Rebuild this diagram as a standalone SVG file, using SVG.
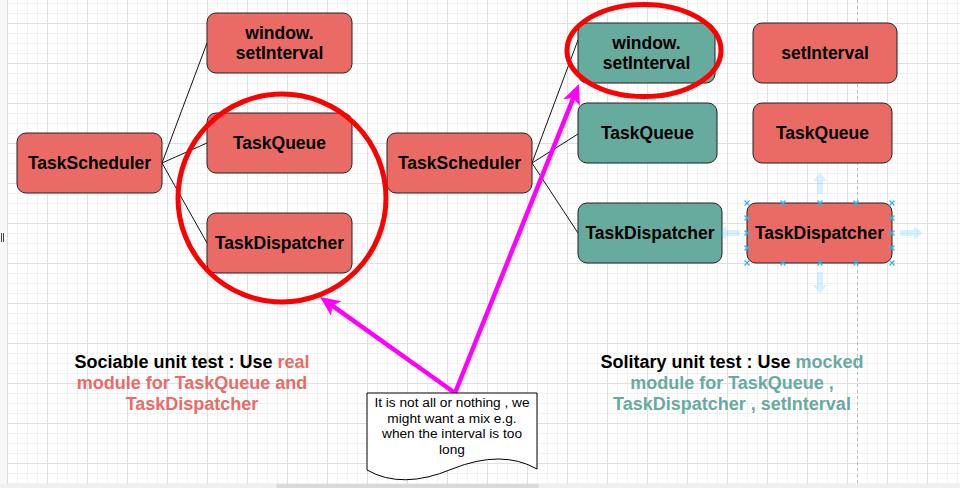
<svg xmlns="http://www.w3.org/2000/svg" width="960" height="488" viewBox="0 0 960 488">
<defs>
<pattern id="minor" x="7" y="3" width="10" height="10" patternUnits="userSpaceOnUse">
<rect x="0" y="0" width="10" height="1" fill="#f2f2f2"/>
<rect x="0" y="0" width="1" height="10" fill="#f2f2f2"/>
</pattern>
<pattern id="major" x="7" y="23" width="40" height="40" patternUnits="userSpaceOnUse">
<rect x="0" y="0" width="40" height="1" fill="#e0e0e0"/>
<rect x="0" y="0" width="1" height="40" fill="#e0e0e0"/>
</pattern>
<marker id="mag" markerUnits="userSpaceOnUse" markerWidth="22" markerHeight="20" refX="8" refY="9" orient="auto">
<path d="M0,0 L20,9 L0,18 L5,9 Z" fill="#ff00ff"/>
</marker>
<g id="hx"><path d="M-2.5,-2.5 L2.5,2.5 M-2.5,2.5 L2.5,-2.5" stroke="#29b6f2" stroke-width="1.2"/></g>
</defs>
<style>
.red{fill:#ea6b66;stroke:#222;stroke-width:1}
.teal{fill:#67ab9f;stroke:#222;stroke-width:1}
.lbl{font-family:"Liberation Sans",Arial,Helvetica,sans-serif;font-weight:bold;font-size:17.5px;fill:#000;text-anchor:middle}
.cap{font-family:"Liberation Sans",Arial,Helvetica,sans-serif;font-weight:bold;font-size:18px;fill:#000;text-anchor:middle}
.note{font-family:"Liberation Sans",Arial,Helvetica,sans-serif;font-size:13.7px;fill:#000;text-anchor:middle}
.conn{stroke:#111;stroke-width:1;fill:none}
.mag{stroke:#ff00ff;stroke-width:4.5;fill:none}
.hov{fill:#29b6f2;opacity:0.18}
</style>
<rect width="960" height="488" fill="#ffffff"/>
<rect width="960" height="488" fill="url(#minor)"/>
<rect width="960" height="488" fill="url(#major)"/>
<rect x="0" y="0" width="7" height="488" fill="#f7f7f7"/>
<rect x="7" y="0" width="1" height="488" fill="#dcdcdc"/>
<rect x="1" y="233" width="1" height="9" fill="#444"/>
<rect x="3" y="233" width="1" height="9" fill="#444"/>
<line x1="857.5" y1="0" x2="857.5" y2="484" stroke="#bdbdbd" stroke-width="1" stroke-dasharray="3,3"/>

<g id="connectors">
<line class="conn" x1="162" y1="163" x2="207" y2="43"/>
<line class="conn" x1="162" y1="163" x2="207" y2="143"/>
<line class="conn" x1="162" y1="163" x2="207" y2="243"/>
<line class="conn" x1="532" y1="163" x2="578" y2="40"/>
<line class="conn" x1="532" y1="163" x2="578" y2="134"/>
<line class="conn" x1="532" y1="163" x2="578" y2="233"/>
</g>

<g id="left-scheduler"><rect class="red" x="17" y="133" width="145" height="60" rx="9"/><text class="lbl" x="89.5" y="169">TaskScheduler</text></g>
<g id="left-setinterval"><rect class="red" x="207" y="13" width="145" height="60" rx="9"/><text class="lbl" x="279.5" y="39">window.</text><text class="lbl" x="279.5" y="59">setInterval</text></g>
<g id="left-taskqueue"><rect class="red" x="207" y="113" width="145" height="60" rx="9"/><text class="lbl" x="279.5" y="149">TaskQueue</text></g>
<g id="left-dispatcher"><rect class="red" x="207" y="213" width="145" height="60" rx="9"/><text class="lbl" x="279.5" y="249">TaskDispatcher</text></g>

<g id="mid-scheduler"><rect class="red" x="387" y="133" width="145" height="60" rx="9"/><text class="lbl" x="459.5" y="169">TaskScheduler</text></g>
<g id="mock-setinterval"><rect class="teal" x="578" y="23" width="137" height="60" rx="9"/><text class="lbl" x="646.5" y="49">window.</text><text class="lbl" x="646.5" y="69">setInterval</text></g>
<g id="mock-taskqueue"><rect class="teal" x="578" y="103" width="139" height="60" rx="9"/><text class="lbl" x="647.5" y="139">TaskQueue</text></g>
<g id="mock-dispatcher"><rect class="teal" x="578" y="203" width="144" height="60" rx="9"/><text class="lbl" x="650" y="239">TaskDispatcher</text></g>

<g id="right-setinterval"><rect class="red" x="753" y="23" width="144" height="60" rx="9"/><text class="lbl" x="825" y="59">setInterval</text></g>
<g id="right-taskqueue"><rect class="red" x="753" y="103" width="139" height="60" rx="9"/><text class="lbl" x="822.5" y="139">TaskQueue</text></g>
<g id="right-dispatcher"><rect class="red" x="747" y="203" width="145" height="60" rx="9"/><text class="lbl" x="819.5" y="239">TaskDispatcher</text></g>

<g id="hover-arrows">
<path class="hov" d="M820,172 L827,181 L823,181 L823,194 L817,194 L817,181 L813,181 Z"/>
<path class="hov" d="M820,294 L827,285 L823,285 L823,272 L817,272 L817,285 L813,285 Z"/>
<path class="hov" d="M923,233 L914,240 L914,236 L900,236 L900,230 L914,230 L914,226 Z"/>
<path class="hov" d="M717,233 L726,240 L726,236 L740,236 L740,230 L726,230 L726,226 Z"/>
</g>
<g id="selection-handles">
<use href="#hx" x="747" y="203"/><use href="#hx" x="783" y="203"/><use href="#hx" x="820" y="203"/><use href="#hx" x="856" y="203"/><use href="#hx" x="892" y="203"/>
<use href="#hx" x="747" y="263"/><use href="#hx" x="783" y="263"/><use href="#hx" x="820" y="263"/><use href="#hx" x="856" y="263"/><use href="#hx" x="892" y="263"/>
<use href="#hx" x="747" y="218"/><use href="#hx" x="747" y="233"/><use href="#hx" x="747" y="248"/>
<use href="#hx" x="892" y="218"/><use href="#hx" x="892" y="233"/><use href="#hx" x="892" y="248"/>
</g>

<g id="highlight-circles">
<ellipse cx="282" cy="198" rx="104" ry="104" fill="none" stroke="#ff0000" stroke-width="5"/>
<ellipse cx="644" cy="50.5" rx="77" ry="46" fill="none" stroke="#ff0000" stroke-width="5"/>
</g>

<g id="pointer-arrows">
<line class="mag" x1="455" y1="393" x2="329.8" y2="303.9" marker-end="url(#mag)"/>
<line class="mag" x1="455" y1="393" x2="574.5" y2="95.1" marker-end="url(#mag)"/>
</g>

<g id="note">
<path d="M367,393 H537 V469 Q502,449 452,469 Q402,490 367,470 Z" fill="#ffffff" stroke="#000" stroke-width="1"/>
<text class="note" x="452" y="407">It is not all or nothing , we</text>
<text class="note" x="452" y="422.5">might want a mix e.g.</text>
<text class="note" x="452" y="438">when the interval is too</text>
<text class="note" x="452" y="454">long</text>
</g>

<g id="caption-sociable">
<text class="cap" x="192" y="368">Sociable unit test : Use <tspan style="fill:#ea6b66">real</tspan></text>
<text class="cap" x="192" y="389" style="fill:#ea6b66">module for TaskQueue and</text>
<text class="cap" x="192" y="410" style="fill:#ea6b66">TaskDispatcher</text>
</g>
<g id="caption-solitary">
<text class="cap" x="732" y="368">Solitary unit test : Use <tspan style="fill:#67ab9f">mocked</tspan></text>
<text class="cap" x="732" y="389" style="fill:#67ab9f">module for TaskQueue ,</text>
<text class="cap" x="732" y="410" style="fill:#67ab9f">TaskDispatcher , setInterval</text>
</g>

<rect x="0" y="484" width="960" height="4" fill="#f0f0f0"/>
<rect x="276" y="484" width="263" height="4" rx="2" fill="#dadada"/>
</svg>
